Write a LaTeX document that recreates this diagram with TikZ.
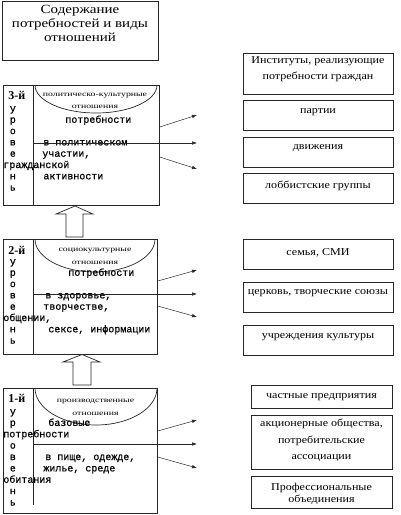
\documentclass[tikz,border=0pt]{standalone}
\usepackage{fontspec}
\setmainfont{Liberation Serif}
\setmonofont[FakeBold=0.6]{Liberation Mono}
\newfontfamily\wideserif[FakeStretch=1.15]{Liberation Serif}
\newfontfamily\titleserif[FakeStretch=1.2]{Liberation Serif}
\newfontfamily\smallserif[FakeStretch=1.4]{Liberation Serif}
\usetikzlibrary{arrows.meta}
\begin{document}
\begin{tikzpicture}[x=1pt,y=-1pt,line width=0.7pt]
\useasboundingbox (0,0) rectangle (401,515);
\tikzset{
  frame/.style={draw=black!85,anchor=north west,inner sep=0pt},
  insttext/.style={inner sep=0pt,align=center,font=\wideserif\fontsize{10.5}{16}\selectfont},
  mono/.style={anchor=base west,inner sep=0pt,font=\ttfamily\fontsize{10}{11}\selectfont},
  lvl/.style={anchor=base west,inner sep=0pt,font=\bfseries\fontsize{12}{14}\selectfont},
  small/.style={anchor=base,inner sep=0pt,font=\smallserif\fontsize{7}{8}\selectfont},
  thinarrow/.style={draw=black!85,-{Latex[length=5pt,width=3.5pt]},line width=0.5pt},
  hollow/.style={draw=black!85,fill=white,line width=0.7pt},
  lineart/.style={draw=black!85,line width=0.7pt},
}
% title
\node[frame,minimum width=156pt,minimum height=59pt] (title) at (2,1) {};
\node[anchor=north,inner sep=0pt,align=center,font=\titleserif\fontsize{12.5}{13.8}\selectfont] (titletext) at (80,5) {Содержание\\потребностей и виды\\отношений};

% ===== level 3 =====
\node[frame,minimum width=156pt,minimum height=120pt] (L3) at (3,85) {};
\coordinate (d3t) at (33,85); \coordinate (d3b) at (33,205);
\draw[lineart] (d3t) -- (d3b);
\draw[lineart] (35,85) arc[start angle=180,end angle=360,x radius=61pt,y radius=28pt];
\node[lvl] (n3) at (8,99) {3-й};
\node[small] (s3a) at (95,96) {политическо-культурные};
\node[small] (s3b) at (95,108.5) {отношения};
\node[mono] (c30) at (9.5,111.5) {у};
\node[mono] (c31) at (9.5,122.8) {р};
\node[mono] (c32) at (9.5,134.1) {о};
\node[mono] (c33) at (9.5,145.4) {в};
\node[mono] (c34) at (9.5,156.7) {е};
\node[mono] (c35) at (3,168) {гражданской};
\node[mono] (c36) at (9.5,179.3) {н};
\node[mono] (c37) at (9.5,190.6) {ь};
\node[mono] (t31) at (65,122.8) {потребности};
\node[mono] (t33) at (43,145.4) {в политическом};
\node[mono] (t34) at (42,156.7) {участии,};
\node[mono] (t36) at (43,179.3) {активности};

% ===== level 2 =====
\node[frame,minimum width=154pt,minimum height=115pt] (L2) at (3,239) {};
\coordinate (d2t) at (33,239); \coordinate (d2b) at (33,354);
\draw[lineart] (d2t) -- (d2b);
\draw[lineart] (35,239) arc[start angle=180,end angle=360,x radius=60pt,y radius=33pt];
\node[lvl] (n2) at (8,254) {2-й};
\node[small] (s2a) at (95,251) {социокультурные};
\node[small] (s2b) at (95,264) {отношения};
\node[mono] (c20) at (9.5,264.5) {у};
\node[mono] (c21) at (9.5,275.8) {р};
\node[mono] (c22) at (9.5,287.1) {о};
\node[mono] (c23) at (9.5,298.4) {в};
\node[mono] (c24) at (9.5,309.7) {е};
\node[mono] (c25) at (3,321) {общении,};
\node[mono] (c26) at (9.5,332.3) {н};
\node[mono] (c27) at (9.5,343.6) {ь};
\node[mono] (t21) at (68,275.8) {потребности};
\node[mono] (t23) at (45,298.4) {в здоровье,};
\node[mono] (t24) at (43,309.7) {творчестве,};
\node[mono] (t26) at (48,332.3) {сексе, информации};

% ===== level 1 =====
\node[frame,minimum width=154pt,minimum height=125pt] (L1) at (3,388) {};
\coordinate (d1t) at (33,388); \coordinate (d1b) at (33,505);
\draw[lineart] (d1t) -- (d1b);
\draw[lineart] (35,388) arc[start angle=180,end angle=360,x radius=61pt,y radius=37pt];
\node[lvl] (n1) at (8,402) {1-й};
\node[small] (s1a) at (95.5,402) {производственные};
\node[small] (s1b) at (95.5,415) {отношения};
\node[mono] (c10) at (9.5,414.5) {у};
\node[mono] (c11) at (9.5,425.9) {р};
\node[mono] (c12) at (3,437.25) {потребности};
\node[mono] (c13) at (9.5,448.6) {о};
\node[mono] (c14) at (9.5,460) {в};
\node[mono] (c15) at (9.5,471.4) {е};
\node[mono] (c16) at (3,482.75) {обитания};
\node[mono] (c17) at (9.5,494.1) {н};
\node[mono] (c18) at (9.5,505.5) {ь};
\node[mono] (t11) at (48,425.9) {базовые};
\node[mono] (t14) at (45,460) {в пище, одежде,};
\node[mono] (t15) at (43,471.4) {жилье, среде};

% ===== hollow arrows =====
\draw[hollow] (66,237) -- (66,214) -- (56,214) -- (75,206) -- (93,214) -- (83,214) -- (83,237) -- cycle;
\draw[hollow] (73,385) -- (73,362) -- (63,362) -- (82,354.5) -- (100,362) -- (91,362) -- (91,385) -- cycle;

% ===== thin arrows =====
\coordinate (e3u) at (197,115); \coordinate (e3m) at (197,143); \coordinate (e3d) at (197,169);
\coordinate (m3) at (33,143);
\draw[thinarrow] ([yshift=-42pt]L3.north east) -- (e3u);
\draw[thinarrow] (m3) -- (e3m);
\draw[thinarrow] ([yshift=-72pt]L3.north east) -- (e3d);

\coordinate (e2u) at (197,270); \coordinate (e2m) at (197,294); \coordinate (e2d) at (197,317);
\coordinate (m2) at (33,294);
\draw[thinarrow] ([yshift=-42pt]L2.north east) -- (e2u);
\draw[thinarrow] (m2) -- (e2m);
\draw[thinarrow] ([yshift=-67pt]L2.north east) -- (e2d);

\coordinate (e1u) at (197,420); \coordinate (e1m) at (197,444); \coordinate (e1d) at (197,468);
\coordinate (m1) at (33,444);
\draw[thinarrow] ([yshift=-43pt]L1.north east) -- (e1u);
\draw[thinarrow] (m1) -- (e1m);
\draw[thinarrow] ([yshift=-69pt]L1.north east) -- (e1d);

% ===== right boxes =====
\node[frame,minimum width=150pt,minimum height=41pt] (r1) at (243,53) {};
\node[insttext] (r1t) at (318,69.5) {Институты, реализующие\\потребности граждан};
\node[frame,minimum width=150pt,minimum height=30pt] (r2) at (243,100) {};
\node[insttext] (r2t) at (318,112) {партии};
\node[frame,minimum width=150pt,minimum height=30pt] (r3) at (243,137) {};
\node[insttext] (r3t) at (318,148) {движения};
\node[frame,minimum width=150pt,minimum height=30pt] (r4) at (243,173) {};
\node[insttext] (r4t) at (318,186) {лоббистские группы};
\node[frame,minimum width=150pt,minimum height=30pt] (r5) at (243,239) {};
\node[insttext] (r5t) at (318,253) {семья, СМИ};
\node[frame,minimum width=150pt,minimum height=30pt] (r6) at (243,282) {};
\node[insttext] (r6t) at (318,293) {церковь, творческие союзы};
\node[frame,minimum width=150pt,minimum height=30pt] (r7) at (243,325) {};
\node[insttext] (r7t) at (318,337) {учреждения культуры};
\node[frame,minimum width=141pt,minimum height=23pt] (r8) at (251,385) {};
\node[insttext] (r8t) at (321.5,397) {частные предприятия};
\node[frame,minimum width=141pt,minimum height=54pt] (r9) at (251,415) {};
\node[insttext,font=\wideserif\fontsize{10.5}{16.5}\selectfont] (r9t) at (321.5,440.5) {акционерные общества,\\потребительские\\ассоциации};
\node[frame,minimum width=141pt,minimum height=32pt] (r10) at (251,476) {};
\node[insttext,font=\wideserif\fontsize{10.5}{12}\selectfont] (r10t) at (321.5,494) {Профессиональные\\объединения};
\end{tikzpicture}
\end{document}
